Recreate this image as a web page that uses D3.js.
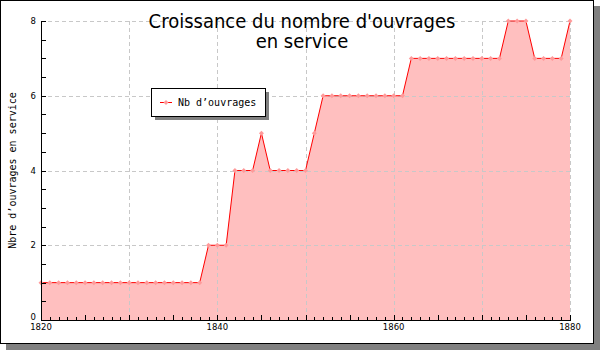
<!DOCTYPE html>
<html><head><meta charset="utf-8">
<script src="https://cdn.jsdelivr.net/npm/d3@7"></script>
<style>body{margin:0;background:#fff}svg{display:block}</style>
</head><body>
<svg id="c" width="600" height="350"></svg>
<script>
const years = d3.range(1820, 1881);
const values = [1,1,1,1,1,1,1,1,1,1, 1,1,1,1,1,1,1,1,1,2, 2,2,4,4,4,5,4,4,4,4, 4,5,6,6,6,6,6,6,6,6, 6,6,7,7,7,7,7,7,7,7, 7,7,7,8,8,8,7,7,7,7, 8];
const xMajorLabels = [1820, 1840, 1860, 1880];
const yLabels = [0, 2, 4, 6, 8];
const title = ["Croissance du nombre d'ouvrages", "en service"];
const seriesName = "Nb d\u2019ouvrages";
const yTitle = "Nbre d\u2019ouvrages en service";

const svg = d3.select("#c");
const L = 41, R = 570, T = 21, B = 320;
const x = d3.scaleLinear().domain([1820, 1880]).range([L, R]);
const y = d3.scaleLinear().domain([0, 8]).range([B, T]);
const data = years.map((yr, i) => ({yr, v: values[i]}));
const diamond = "M0,-2.5L2.5,0L0,2.5L-2.5,0Z";

// frame + shadow
svg.append("rect").attr("x", 6).attr("y", 6).attr("width", 594).attr("height", 344).attr("fill", "#808080");
svg.append("rect").attr("x", 0.5).attr("y", 0.5).attr("width", 593).attr("height", 343).attr("fill", "#fff").attr("stroke", "#000");

// area
svg.append("path").datum(data)
  .attr("d", d3.area().x(d => x(d.yr)).y0(y(0)).y1(d => y(d.v)))
  .attr("fill", "#ffbfbf");

// grid
const g = svg.append("g").attr("stroke", "#c8c8c8").attr("stroke-dasharray", "4,3").attr("shape-rendering", "crispEdges");
d3.range(1830, 1881, 10).forEach(v => g.append("line").attr("x1", Math.round(x(v))+0.5).attr("x2", Math.round(x(v))+0.5).attr("y1", T).attr("y2", B));
yLabels.filter(v => v > 0).forEach(v => g.append("line").attr("x1", L).attr("x2", R).attr("y1", Math.round(y(v))+0.5).attr("y2", Math.round(y(v))+0.5));

// line
svg.append("path").datum(data)
  .attr("d", d3.line().x(d => x(d.yr)).y(d => y(d.v)))
  .attr("fill", "none").attr("stroke", "#ff0000").attr("stroke-width", 1);

// markers
svg.append("g").selectAll("path").data(data).join("path")
  .attr("transform", d => `translate(${x(d.yr)},${y(d.v)})`)
  .attr("d", diamond)
  .attr("fill", "#ff9a9a").attr("stroke", "none");

// axes
const ax = svg.append("g").attr("shape-rendering", "crispEdges");
ax.append("line").attr("x1", L+0.5).attr("x2", L+0.5).attr("y1", T).attr("y2", B+0.5).attr("stroke", "#000");
ax.append("line").attr("x1", L).attr("x2", R+1).attr("y1", B+0.5).attr("y2", B+0.5).attr("stroke", "#000");
years.forEach(v => {
  const len = v % 5 === 0 ? 5 : 3;
  ax.append("line").attr("x1", Math.round(x(v))+0.5).attr("x2", Math.round(x(v))+0.5).attr("y1", B).attr("y2", B - len).attr("stroke", "#000");
});
d3.range(0, 8.01, 0.5).forEach(v => {
  ax.append("line").attr("x1", L).attr("x2", L + 5).attr("y1", Math.round(y(v))+0.5).attr("y2", Math.round(y(v))+0.5).attr("stroke", "#000");
});
const tf = "DejaVu Sans, sans-serif";
xMajorLabels.forEach(v => svg.append("text").attr("x", x(v)).attr("y", B + 10).attr("text-anchor", "middle")
  .attr("font-family", tf).attr("font-size", 8.5).attr("fill", "#000").text(v));
yLabels.forEach(v => svg.append("text").attr("x", L - 5).attr("y", v === 0 ? y(v) : y(v) + 3).attr("text-anchor", "end")
  .attr("font-family", tf).attr("font-size", 8.5).attr("fill", "#000").text(v));

// y title
svg.append("text").attr("transform", `translate(16,${(T+B)/2}) rotate(-90)`).attr("text-anchor", "middle")
  .attr("font-family", "DejaVu Sans Mono, monospace").attr("font-size", 10).text(yTitle);

// title
const tt = svg.append("text").attr("text-anchor", "middle").attr("font-family", "DejaVu Sans Condensed, DejaVu Sans, sans-serif").attr("font-size", 20);
tt.append("tspan").attr("x", 302).attr("y", 28).text(title[0]);
tt.append("tspan").attr("x", 302).attr("y", 48).text(title[1]);

// legend
const lg = svg.append("g").attr("shape-rendering", "crispEdges");
lg.append("rect").attr("x", 155).attr("y", 92).attr("width", 114).attr("height", 28).attr("fill", "#808080");
lg.append("rect").attr("x", 151.5).attr("y", 88.5).attr("width", 114).attr("height", 28).attr("fill", "#fff").attr("stroke", "#000");
lg.append("line").attr("x1", 160).attr("x2", 172).attr("y1", 102.5).attr("y2", 102.5).attr("stroke", "#ff0000");
svg.append("path").attr("transform", "translate(166,102.5)").attr("d", diamond).attr("fill", "#ff9a9a");
svg.append("text").attr("x", 178).attr("y", 106).attr("font-family", "DejaVu Sans Mono, monospace").attr("font-size", 10).text(seriesName);
</script>
</body></html>
